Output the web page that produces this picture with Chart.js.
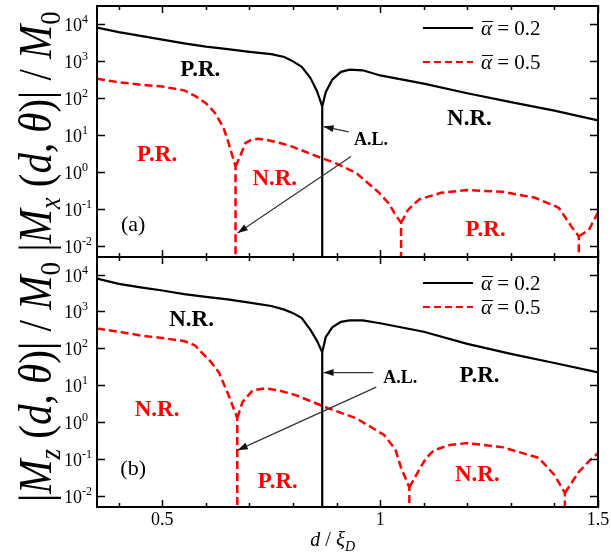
<!DOCTYPE html>
<html>
<head>
<meta charset="utf-8">
<script src="https://cdn.jsdelivr.net/npm/chart.js@4.4.1/dist/chart.umd.min.js"></script>
<style>
  html, body { margin: 0; padding: 0; background: #fff; }
  #wrap { position: relative; width: 611px; height: 557px; }
  canvas { position: absolute; left: 0; }
  #topChart { top: 0; }
  #bottomChart { top: 252px; }
</style>
</head>
<body>
<div id="wrap">
  <canvas id="topChart" width="611" height="262"></canvas>
  <canvas id="bottomChart" width="611" height="305"></canvas>
</div>
<script>
// panel (a): |Mx| / M0  (null = pen lift after a drop to the axis)
const dA02 = [0.35, 0.40, 0.45, 0.50, 0.55, 0.60, 0.65, 0.70, 0.75, 0.78, 0.80, 0.82, 0.84, 0.855, 0.867, 0.867, 0.867, 0.867, 0.875, 0.89, 0.91, 0.93, 0.96, 1.0, 1.1, 1.2, 1.3, 1.4, 1.5];
const mxA02 = [7800, 5900, 4700, 3700, 2950, 2400, 2050, 1740, 1510, 1260, 960, 680, 340, 150, 58, 1e-6, null, 58, 141, 309, 500, 575, 550, 400, 240, 132, 76, 45, 24.5];

const dA05 = [0.35, 0.40, 0.45, 0.50, 0.55, 0.575, 0.60, 0.62, 0.64, 0.652, 0.668, 0.668, 0.668, 0.668, 0.675, 0.691, 0.705, 0.72, 0.74, 0.77, 0.80, 0.845, 0.90, 0.945, 0.995, 1.02, 1.032, 1.048, 1.048, 1.048, 1.048, 1.064, 1.075, 1.09, 1.14, 1.2, 1.28, 1.355, 1.41, 1.44, 1.456, 1.456, 1.456, 1.456, 1.479, 1.5];
const mxA05 = [324, 263, 224, 200, 158, 112, 71, 40, 16, 6, 1.4, 1e-6, null, 1.4, 2.1, 6, 7.4, 7.8, 7.2, 6, 4.7, 2.9, 1.66, 0.93, 0.29, 0.14, 0.079, 0.042, 1e-6, null, 0.042, 0.093, 0.126, 0.18, 0.27, 0.32, 0.29, 0.2, 0.107, 0.032, 0.018, 1e-6, null, 0.018, 0.027, 0.079];

// panel (b): |Mz| / M0
const dB02 = [0.35, 0.40, 0.45, 0.50, 0.55, 0.60, 0.65, 0.70, 0.75, 0.78, 0.80, 0.82, 0.84, 0.855, 0.867, 0.867, 0.867, 0.867, 0.875, 0.89, 0.91, 0.93, 0.96, 1.0, 1.1, 1.2, 1.3, 1.4, 1.5];
const mzB02 = [7800, 5600, 4500, 3700, 2950, 2500, 2140, 1740, 1410, 1120, 900, 660, 316, 160, 78, 1e-6, null, 78, 200, 370, 525, 575, 575, 480, 282, 132, 71, 40, 22.4];

const dB05 = [0.35, 0.40, 0.45, 0.50, 0.55, 0.575, 0.59, 0.61, 0.63, 0.652, 0.672, 0.672, 0.672, 0.672, 0.684, 0.707, 0.737, 0.77, 0.806, 0.88, 0.944, 1.009, 1.035, 1.048, 1.067, 1.067, 1.067, 1.067, 1.087, 1.105, 1.124, 1.16, 1.2, 1.28, 1.364, 1.40, 1.424, 1.424, 1.424, 1.424, 1.456, 1.48, 1.5];
const mzB05 = [347, 282, 224, 190, 158, 120, 78, 45, 22, 5.4, 1.29, 1e-6, null, 1.29, 3.5, 7.2, 8.3, 7.1, 5.4, 2.4, 1.29, 0.45, 0.18, 0.058, 0.017, 1e-6, null, 0.017, 0.045, 0.105, 0.174, 0.24, 0.27, 0.21, 0.107, 0.037, 0.012, 1e-6, null, 0.012, 0.045, 0.089, 0.145];

const xTicks = [0.4, 0.5, 0.6, 0.7, 0.8, 0.9, 1.0, 1.1, 1.2, 1.3, 1.4, 1.5];
const xLabels = [0.5, 1, 1.5];
const yExponents = [-2, -1, 0, 1, 2, 3, 4];

const SERIF = '"Liberation Serif", "Times New Roman", serif';

const pts = (xs, ys) => xs.map((x, i) => ({ x: x, y: ys[i] }));

function arrow(ctx, x1, y1, x2, y2) {
    ctx.save();
    ctx.strokeStyle = "#333";
    ctx.fillStyle = "#111";
    ctx.lineWidth = 1.2;
    ctx.beginPath();
    ctx.moveTo(x1, y1);
    ctx.lineTo(x2, y2);
    ctx.stroke();
    const a = Math.atan2(y2 - y1, x2 - x1);
    ctx.beginPath();
    ctx.moveTo(x2, y2);
    ctx.lineTo(x2 - 10 * Math.cos(a) + 3.5 * Math.sin(a), y2 - 10 * Math.sin(a) - 3.5 * Math.cos(a));
    ctx.lineTo(x2 - 10 * Math.cos(a) - 3.5 * Math.sin(a), y2 - 10 * Math.sin(a) + 3.5 * Math.cos(a));
    ctx.closePath();
    ctx.fill();
    ctx.restore();
}

function drawYTitle(ctx, cx, cy, sub, len) {
    const big = 46, small = 30;
    const parts = [
        { t: "|", s: big, it: false },
        { t: "M", s: big, it: true },
        { t: sub, s: small, it: true, sub: true },
        { t: " (", s: big, it: false },
        { t: "d", s: big, it: true },
        { t: ", ", s: big, it: false },
        { t: "\u03b8", s: big, it: true },
        { t: ")", s: big, it: false },
        { t: "|", s: big, it: false },
        { t: " / ", s: big, it: false },
        { t: "M", s: big, it: true },
        { t: "0", s: small, it: false, sub: true },
    ];
    let total = 0;
    parts.forEach(p => {
        ctx.font = (p.it ? "italic " : "") + p.s + "px " + SERIF;
        p.w = ctx.measureText(p.t).width;
        total += p.w;
    });
    ctx.save();
    ctx.translate(cx, cy);
    ctx.rotate(-Math.PI / 2);
    ctx.scale(len / total, 1);
    ctx.fillStyle = "#000";
    ctx.textBaseline = "alphabetic";
    let x = -total / 2;
    parts.forEach(p => {
        ctx.font = (p.it ? "italic " : "") + p.s + "px " + SERIF;
        ctx.fillText(p.t, x, p.sub ? 9 : 0);
        x += p.w;
    });
    ctx.restore();
}

function legendEntry(ctx, x, y, dashed, label) {
    ctx.save();
    ctx.strokeStyle = dashed ? "#ff0000" : "#000";
    ctx.lineWidth = 2;
    ctx.setLineDash(dashed ? [7, 4] : []);
    ctx.beginPath();
    ctx.moveTo(x, y);
    ctx.lineTo(x + 50, y);
    ctx.stroke();
    ctx.setLineDash([]);
    ctx.fillStyle = "#000";
    ctx.textBaseline = "alphabetic";
    ctx.font = "italic 21px " + SERIF;
    const tx = x + 58;
    ctx.fillText("\u03b1", tx, y + 7);
    const aw = ctx.measureText("\u03b1").width;
    ctx.strokeStyle = "#000";
    ctx.lineWidth = 1;
    ctx.beginPath();
    ctx.moveTo(tx + 1, y - 6.5);
    ctx.lineTo(tx + aw + 1, y - 6.5);
    ctx.stroke();
    ctx.font = "21px " + SERIF;
    ctx.fillText(" = " + label, tx + aw, y + 7);
    ctx.restore();
}

function decor(cfg) {
    return {
        id: "decor",
        afterDraw(chart) {
            const ctx = chart.ctx;
            const a = chart.chartArea;
            const xs = chart.scales.x, ys = chart.scales.y;
            ctx.save();
            // frame
            ctx.strokeStyle = "#000";
            ctx.lineWidth = 2;
            ctx.strokeRect(a.left, a.top, a.right - a.left, a.bottom - a.top);
            // x ticks (inward, top and bottom)
            ctx.lineWidth = 1.5;
            xTicks.forEach(v => {
                const px = Math.round(xs.getPixelForValue(v)) + 0.5;
                const major = xLabels.some(l => Math.abs(l - v) < 1e-6);
                const len = major ? 7 : 4;
                ctx.beginPath();
                ctx.moveTo(px, a.bottom); ctx.lineTo(px, a.bottom - len);
                ctx.moveTo(px, a.top); ctx.lineTo(px, a.top + len);
                ctx.stroke();
            });
            // y ticks (inward, left and right) with labels 10^n
            ctx.fillStyle = "#000";
            ctx.textBaseline = "alphabetic";
            yExponents.forEach(e => {
                const py = Math.round(ys.getPixelForValue(Math.pow(10, e))) + 0.5;
                ctx.beginPath();
                ctx.moveTo(a.left, py); ctx.lineTo(a.left + 8, py);
                ctx.moveTo(a.right, py); ctx.lineTo(a.right - 8, py);
                ctx.stroke();
                ctx.font = "18px " + SERIF;
                ctx.textAlign = "right";
                ctx.fillText("10", a.left - 15, py + 6);
                ctx.textAlign = "left";
                ctx.font = "12px " + SERIF;
                ctx.fillText(String(e), a.left - 15, py - 2);
            });
            // x labels
            if (cfg.xLabels) {
                ctx.font = "18px " + SERIF;
                ctx.textAlign = "center";
                xLabels.forEach(v => {
                    ctx.fillText(String(v), xs.getPixelForValue(v), a.bottom + 18);
                });
                // x title: d / xi_D
                const cx = xs.getPixelForValue(0.5) + 148;
                const by = a.bottom + 39;
                ctx.textAlign = "left";
                ctx.font = "italic 20px " + SERIF;
                ctx.fillText("d", cx, by);
                let x = cx + ctx.measureText("d").width;
                ctx.font = "20px " + SERIF;
                ctx.fillText(" / ", x, by);
                x += ctx.measureText(" / ").width;
                ctx.font = "italic 21px " + SERIF;
                ctx.fillText("\u03be", x, by);
                x += ctx.measureText("\u03be").width;
                ctx.font = "italic 14px " + SERIF;
                ctx.fillText("D", x, by + 5);
            }
            // y title
            drawYTitle(ctx, 51, (a.top + a.bottom) / 2, cfg.sub, 240);
            // legend
            legendEntry(ctx, a.right - 175, a.top + cfg.legY[0], false, "0.2");
            legendEntry(ctx, a.right - 175, a.top + cfg.legY[1], true, "0.5");
            // labels
            ctx.textAlign = "center";
            ctx.textBaseline = "middle";
            cfg.labels.forEach(l => {
                ctx.font = (l.bold ? "bold " : "") + l.size + "px " + SERIF;
                ctx.fillStyle = l.color;
                ctx.fillText(l.text, xs.getPixelForValue(l.d), ys.getPixelForValue(l.v));
            });
            cfg.arrows.forEach(r => {
                arrow(ctx, xs.getPixelForValue(r[0]), ys.getPixelForValue(r[1]),
                    xs.getPixelForValue(r[2]), ys.getPixelForValue(r[3]));
            });
            ctx.restore();
        }
    };
}

function makeChart(id, d02, v02, d05, v05, pad, cfg) {
    return new Chart(document.getElementById(id), {
        type: "line",
        data: {
            datasets: [
                {
                    label: "\u03b1 = 0.2",
                    data: pts(d02, v02),
                    borderColor: "#000",
                    borderWidth: 2.2,
                    pointRadius: 0,
                    tension: 0,
                    spanGaps: false,
                },
                {
                    label: "\u03b1 = 0.5",
                    data: pts(d05, v05),
                    borderColor: "#ff0000",
                    borderWidth: 2.5,
                    borderDash: [8, 4],
                    pointRadius: 0,
                    tension: 0,
                    spanGaps: false,
                },
            ],
        },
        options: {
            responsive: false,
            animation: false,
            devicePixelRatio: 1,
            layout: { padding: pad },
            scales: {
                x: { type: "linear", min: 0.35, max: 1.5, display: false },
                y: { type: "logarithmic", min: 0.005, max: 30000, display: false },
            },
            plugins: {
                legend: { display: false },
                tooltip: { enabled: false },
            },
        },
        plugins: [decor(cfg)],
    });
}

makeChart("topChart", dA02, mxA02, dA05, mxA05,
    { left: 97, right: 13, top: 6, bottom: 5 },
    {
        sub: "x",
        xLabels: false,
        legY: [22, 56],
        labels: [
            { text: "P.R.", d: 0.587, v: 575, color: "#000", bold: true, size: 23 },
            { text: "N.R.", d: 1.205, v: 26, color: "#000", bold: true, size: 23 },
            { text: "P.R.", d: 0.488, v: 2.9, color: "#ff0000", bold: true, size: 23 },
            { text: "N.R.", d: 0.758, v: 0.65, color: "#ff0000", bold: true, size: 23 },
            { text: "P.R.", d: 1.242, v: 0.027, color: "#ff0000", bold: true, size: 23 },
            { text: "(a)", d: 0.433, v: 0.035, color: "#000", bold: false, size: 22 },
            { text: "A.L.", d: 0.979, v: 6.9, color: "#000", bold: true, size: 18 },
        ],
        arrows: [
            [0.928, 12, 0.870, 16.6],
            [0.933, 2.6, 0.673, 0.0224],
        ],
    });

makeChart("bottomChart", dB02, mzB02, dB05, mzB05,
    { left: 97, right: 13, top: 5, bottom: 50 },
    {
        sub: "z",
        xLabels: true,
        legY: [26, 50],
        labels: [
            { text: "N.R.", d: 0.567, v: 600, color: "#000", bold: true, size: 23 },
            { text: "N.R.", d: 0.488, v: 2.1, color: "#ff0000", bold: true, size: 23 },
            { text: "(b)", d: 0.433, v: 0.054, color: "#000", bold: false, size: 22 },
            { text: "P.R.", d: 0.765, v: 0.024, color: "#ff0000", bold: true, size: 23 },
            { text: "P.R.", d: 1.228, v: 17.4, color: "#000", bold: true, size: 23 },
            { text: "N.R.", d: 1.223, v: 0.037, color: "#ff0000", bold: true, size: 23 },
            { text: "A.L.", d: 1.046, v: 15.5, color: "#000", bold: true, size: 18 },
        ],
        arrows: [
            [0.984, 22, 0.870, 22],
            [0.991, 8.9, 0.673, 0.174],
        ],
    });
</script>
</body>
</html>
